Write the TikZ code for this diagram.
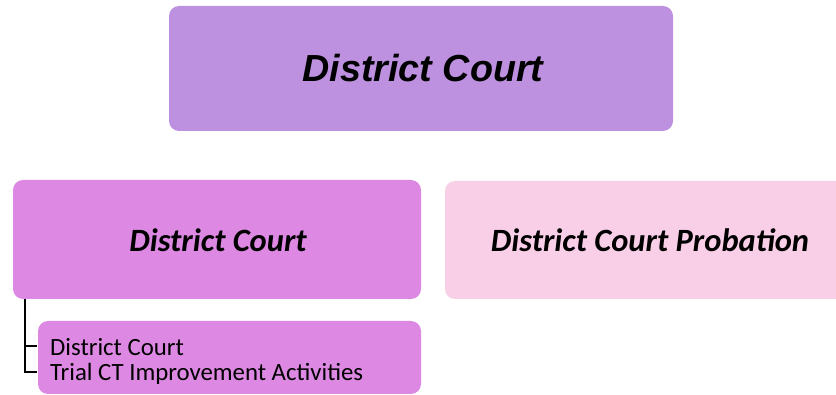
\documentclass[tikz,border=0pt]{standalone}
\usepackage{fontspec}
\setmainfont{Carlito}
\newfontfamily\arialfont{Liberation Sans}
\begin{document}
\begin{tikzpicture}[x=1pt,y=-1pt,
  boxstyle/.style={rounded corners=10pt, draw=none},
  treeline/.style={draw=black, line width=1.6pt}]
\useasboundingbox (0,0) rectangle (836,395);
\definecolor{topcol}{HTML}{BD91E0}
\definecolor{leftcol}{HTML}{DD88E3}
\definecolor{rightcol}{HTML}{F9CFE8}
\fill[boxstyle, topcol] (169,6) rectangle (673,131);
\node (top) at (423,68) {\arialfont\fontsize{37.7}{42}\selectfont\bfseries\itshape District Court};
\fill[boxstyle, leftcol] (13,180) rectangle (421,299);
\coordinate (leftbl) at (25,299);
\node (left) at (218,240) {\fontsize{32.5}{36}\selectfont\bfseries\itshape District Court};
\fill[boxstyle, rightcol] (445,181) rectangle (850,299);
\node (right) at (650,240) {\fontsize{32.5}{36}\selectfont\bfseries\itshape District Court Probation};
\fill[boxstyle, leftcol] (38,321) rectangle (421,394);
\node[anchor=west, inner sep=0pt] (c1) at (50,347) {\fontsize{24.8}{28}\selectfont District Court};
\node[anchor=west, inner sep=0pt] (c2) at (50,374) {\fontsize{24.8}{28}\selectfont Trial CT Improvement Activities};
\draw[treeline] (leftbl) -- (25,372) -- (37,372);
\draw[treeline] (25,346) -- (37,346);
\end{tikzpicture}
\end{document}
